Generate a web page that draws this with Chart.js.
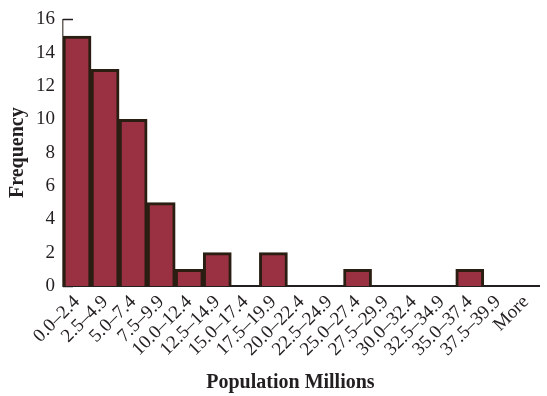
<!DOCTYPE html>
<html>
<head>
<meta charset="utf-8">
<script src="https://cdn.jsdelivr.net/npm/chart.js@4.4.0/dist/chart.umd.min.js"></script>
<style>
  html, body { margin: 0; padding: 0; background: #fff; }
  #wrap { width: 547px; height: 396px; position: relative; }
</style>
</head>
<body>
<div id="wrap"><canvas id="histChart"></canvas></div>
<script>
// bins (millions) and counts
const binLabels = [
  "0.0\u20132.4", "2.5\u20134.9", "5.0\u20137.4", "7.5\u20139.9",
  "10.0\u201312.4", "12.5\u201314.9", "15.0\u201317.4", "17.5\u201319.9",
  "20.0\u201322.4", "22.5\u201324.9", "25.0\u201327.4", "27.5\u201329.9",
  "30.0\u201332.4", "32.5\u201334.9", "35.0\u201337.4", "37.5\u201339.9", "More"
];
const frequency = [15, 13, 10, 5, 1, 2, 0, 2, 0, 0, 1, 0, 0, 0, 1, 0, 0];
const yTicks = [0, 2, 4, 6, 8, 10, 12, 14, 16];
const xTitle = "Population Millions";

const inkColor = "#231f20";
const serif = "'Liberation Serif', 'DejaVu Serif', serif";

// inward tick marks on the y axis (drawn under the bars)
const inwardTicks = {
  id: "inwardTicks",
  beforeDatasetsDraw(chart) {
    const { ctx, chartArea, scales } = chart;
    ctx.save();
    ctx.strokeStyle = inkColor;
    ctx.lineWidth = 1.5;
    yTicks.forEach((v) => {
      const y = Math.round(scales.y.getPixelForValue(v)) + 0.5;
      ctx.beginPath();
      ctx.moveTo(chartArea.left, y);
      ctx.lineTo(chartArea.left + 10, y);
      ctx.stroke();
    });
    ctx.restore();
  }
};

// x title sits a bit left of the axis centre in the original
const xTitlePlugin = {
  id: "xTitlePlugin",
  afterDraw(chart) {
    const { ctx, chartArea } = chart;
    ctx.save();
    ctx.fillStyle = inkColor;
    ctx.font = "bold 20px " + serif;
    ctx.textAlign = "center";
    ctx.textBaseline = "middle";
    ctx.fillText(xTitle, (chartArea.left + chartArea.right) / 2 - 11, chart.height - 13);
    ctx.restore();
  }
};

new Chart(document.getElementById("histChart").getContext("2d"), {
  type: "bar",
  data: {
    labels: binLabels,
    datasets: [{
      label: "Frequency",
      data: frequency,
      backgroundColor: "#9a3142",
      borderColor: "#2a1d12",
      borderWidth: 3,
      categoryPercentage: 1,
      barPercentage: 1
    }]
  },
  options: {
    responsive: true,
    maintainAspectRatio: false,
    animation: false,
    layout: { padding: { top: 17, right: 0, left: 0, bottom: 0 } },
    plugins: {
      legend: { display: false },
      tooltip: { enabled: false }
    },
    scales: {
      x: {
        offset: true,
        grid: { display: false, drawTicks: false },
        border: { display: true, color: inkColor, width: 2 },
        ticks: {
          color: inkColor,
          font: { family: serif, size: 19 },
          minRotation: 45,
          maxRotation: 45,
          autoSkip: false,
          padding: 5
        },
        afterFit(scale) { scale.height = 110; }
      },
      y: {
        min: 0,
        max: 16,
        afterBuildTicks(scale) { scale.ticks = yTicks.map((v) => ({ value: v })); },
        grid: { display: false, drawTicks: false },
        border: { display: true, color: "#6b6560", width: 1.5 },
        ticks: {
          color: inkColor,
          font: { family: serif, size: 19 },
          padding: 8
        },
        title: {
          display: true,
          text: "Frequency",
          color: inkColor,
          font: { family: serif, size: 20, weight: "bold" },
          padding: { top: 6, bottom: 0 }
        },
        afterFit(scale) { scale.width = 63; }
      }
    }
  },
  plugins: [inwardTicks, xTitlePlugin]
});
</script>
</body>
</html>
